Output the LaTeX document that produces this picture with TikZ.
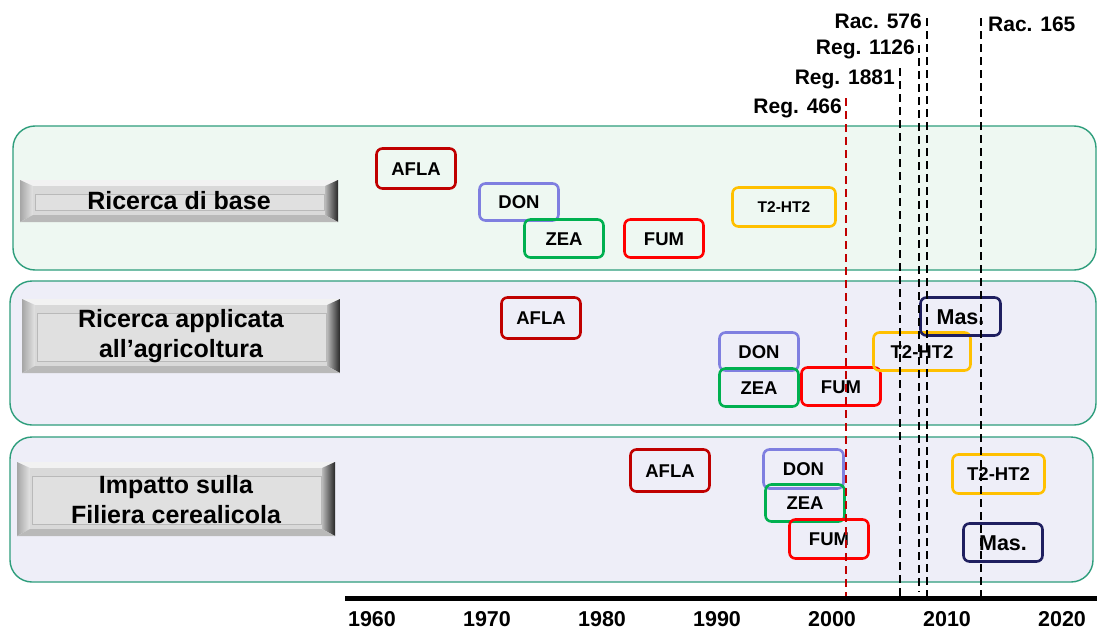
\documentclass[tikz,border=0pt]{standalone}
\usepackage{fontspec}
\setmainfont{Liberation Sans}
\definecolor{bandA}{HTML}{EEF8F2}
\definecolor{bandB}{HTML}{EEEEF8}
\definecolor{bandline}{HTML}{2E9E7C}
\definecolor{cafla}{HTML}{C00000}
\definecolor{cdon}{HTML}{7F7FE0}
\definecolor{czea}{HTML}{00B050}
\definecolor{cfum}{HTML}{FF0000}
\definecolor{ct2}{HTML}{FFC000}
\definecolor{cmas}{HTML}{1F1F60}
\definecolor{regred}{HTML}{C00000}
\newcommand\bevbtn[5]{%
  \pgfmathsetmacro\bvxa{#1+13}\pgfmathsetmacro\bvxb{#3-13}%
  \pgfmathsetmacro\bvya{#2+6}\pgfmathsetmacro\bvyb{#4-7}%
  \pgfmathsetmacro\bvia{#1+15}\pgfmathsetmacro\bvib{#3-14}%
  \pgfmathsetmacro\bvja{#2+14}\pgfmathsetmacro\bvjb{#4-12}%
  \fill[gray!10] (#1,#2) -- (#3,#2) -- (\bvxb,\bvya) -- (\bvxa,\bvya) -- cycle;
  \shade[left color=gray!70, right color=gray!22] (#1,#2) -- (\bvxa,\bvya) -- (\bvxa,\bvyb) -- (#1,#4) -- cycle;
  \shade[left color=gray!55, right color=black!85] (#3,#2) -- (#3,#4) -- (\bvxb,\bvyb) -- (\bvxb,\bvya) -- cycle;
  \fill[gray!55] (#1,#4) -- (#3,#4) -- (\bvxb,\bvyb) -- (\bvxa,\bvyb) -- cycle;
  \fill[gray!30] (\bvxa,\bvya) rectangle (\bvxb,\bvyb);
  \draw[gray!55, fill=gray!24, line width=0.7] (\bvia,\bvja) rectangle (\bvib,\bvjb);
  #5
}
\tikzset{
  band/.style={draw=bandline, line width=1.4, rounded corners=22},
  tag/.style={draw, line width=2.6, rounded corners=6, inner sep=0pt,
    font=\bfseries\fontsize{18.5}{20}\selectfont, text height=13.3pt, text depth=0pt},
  smalltag/.style={tag, font=\bfseries\fontsize{15.5}{18}\selectfont, text height=11.1pt},
  bigtag/.style={tag, font=\bfseries\fontsize{21.5}{24}\selectfont, text height=15.4pt},
  btntext/.style={align=center, font=\bfseries\fontsize{25}{30}\selectfont, inner sep=0pt},
  reglbl/.style={inner sep=0pt, font=\bfseries\fontsize{21}{24}\selectfont},
  yearlbl/.style={inner sep=0pt, anchor=base, font=\bfseries\fontsize{21.5}{24}\selectfont},
  vline/.style={dash pattern=on 8 off 5, line width=1.9, black},
  redline/.style={dash pattern=on 8 off 5, line width=1.6, regred},
}
\begin{document}
\begin{tikzpicture}[x=1pt, y=-1pt]
\useasboundingbox (0,0) rectangle (1097,629);
\fill[white] (0,0) rectangle (1097,629);

% bands
\filldraw[band, fill=bandA] (13,126) rectangle (1096,270);
\filldraw[band, fill=bandB] (10,281) rectangle (1096,425);
\filldraw[band, fill=bandB] (10,437) rectangle (1093,582);

% buttons
\bevbtn{20}{180}{338}{222}{\node[btntext] (b1) at (179,201) {Ricerca di base};}
\bevbtn{22}{299}{340}{373}{\node[btntext] (b2) at (181,336) {Ricerca applicata\\all’agricoltura};}
\bevbtn{17}{462}{335}{536}{\node[btntext] (b3) at (176,500) {Impatto sulla\\Filiera cerealicola};}

% band 1 boxes
\node[tag, draw=cafla, minimum width=79, minimum height=40] (a1) at (416,168.5) {AFLA};
\node[tag, draw=cdon, minimum width=79, minimum height=37] (d1) at (519,202) {DON};
\node[tag, draw=czea, minimum width=79, minimum height=38] (z1) at (564,238.5) {ZEA};
\node[tag, draw=cfum, minimum width=79, minimum height=38] (f1) at (664,238.5) {FUM};
\node[smalltag, draw=ct2, minimum width=103, minimum height=39] (t1) at (784,207) {T2-HT2};

% band 2 boxes
\node[tag, draw=cafla, minimum width=79, minimum height=41] (a2) at (541,318) {AFLA};
\node[tag, draw=cdon, minimum width=79, minimum height=38] (d2) at (759,351.5) {DON};
\node[tag, draw=czea, minimum width=79, minimum height=38] (z2) at (759,387.5) {ZEA};
\node[tag, draw=cfum, minimum width=79, minimum height=38] (f2) at (841,386.5) {FUM};
\node[tag, draw=ct2, minimum width=97, minimum height=38] (t2) at (922,351.5) {T2-HT2};
\node[bigtag, draw=cmas, minimum width=80, minimum height=38] (m2) at (960.5,316.5) {Mas.};

% band 3 boxes
\node[tag, draw=cafla, minimum width=79, minimum height=42] (a3) at (670,470.5) {AFLA};
\node[tag, draw=cdon, minimum width=80, minimum height=39] (d3) at (803.5,469) {DON};
\node[tag, draw=czea, minimum width=79, minimum height=37] (z3) at (805,503) {ZEA};
\node[tag, draw=cfum, minimum width=79, minimum height=39] (f3) at (829,539) {FUM};
\node[tag, draw=ct2, minimum width=92, minimum height=39] (t3) at (998.5,474) {T2-HT2};
\node[bigtag, draw=cmas, minimum width=79, minimum height=38] (m3) at (1003,542.5) {Mas.};

% regulation lines
\coordinate (r466t) at (846,98);   \coordinate (r466b) at (846,598);
\coordinate (r1881t) at (900,68);  \coordinate (r1881b) at (900,598);
\coordinate (r1126t) at (919,45);  \coordinate (r1126b) at (919,592);
\coordinate (r576t) at (927,18);   \coordinate (r576b) at (927,598);
\coordinate (r165t) at (981,18);   \coordinate (r165b) at (981,598);
\draw[redline] (r466t) -- (r466b);
\draw[vline] (r1881t) -- (r1881b);
\draw[vline] (r1126t) -- (r1126b);
\draw[vline] (r576t) -- (r576b);
\draw[vline] (r165t) -- (r165b);

\node[reglbl, anchor=base east] (l466) at (842,113) {Reg. 466};
\node[reglbl, anchor=base east] (l1881) at (895,84) {Reg. 1881};
\node[reglbl, anchor=base east] (l1126) at (915,54) {Reg. 1126};
\node[reglbl, anchor=base east] (l576) at (922,28) {Rac. 576};
\node[reglbl, anchor=base west] (l165) at (988,31) {Rac. 165};

% time axis
\coordinate (axL) at (345,598);
\coordinate (axR) at (1097,598);
\draw[line width=5] (axL) -- (axR);
\foreach \yr [count=\i from 0] in {1960,1970,1980,1990,2000,2010,2020}{
  \node[yearlbl] (y\yr) at ({372+115*\i},626) {\yr};
}
\end{tikzpicture}
\end{document}
